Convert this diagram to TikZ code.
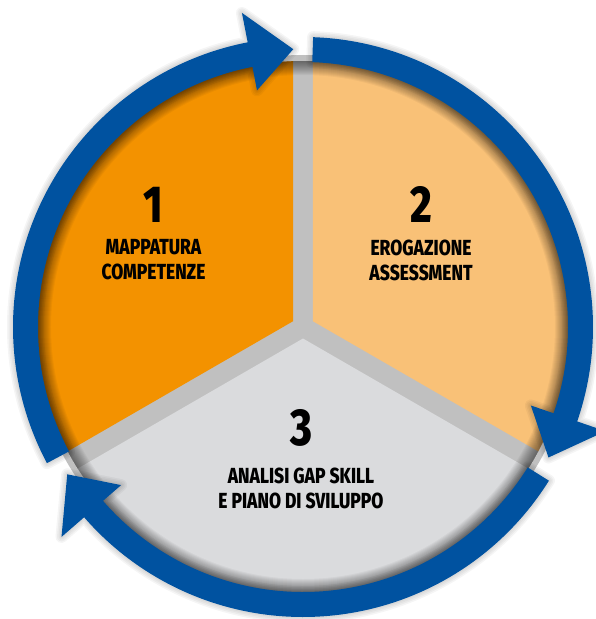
\documentclass[tikz,border=0pt]{standalone}
\usepackage{fontspec}
\newfontfamily\cyclefont[FakeStretch=0.8,BoldFont={Fira Sans ExtraBold}]{Fira Sans}
\usetikzlibrary{positioning}
\definecolor{ringblue}{RGB}{0,82,160}
\definecolor{stepdark}{RGB}{243,146,0}
\definecolor{steplight}{RGB}{249,193,119}
\definecolor{stepgrey}{RGB}{218,219,221}
\definecolor{gapgrey}{RGB}{192,192,192}
\tikzset{
  stepnum/.style={inner sep=0pt,font=\cyclefont\bfseries\fontsize{52}{52}\selectfont},
  steptext/.style={inner sep=0pt,align=center,font=\cyclefont\bfseries\fontsize{21.8}{25}\selectfont},
  ringarrow/.style={fill=ringblue},
  ringglow/.style={draw=black,opacity=0.04,line join=round}
}
\begin{document}
\begin{tikzpicture}[x=1pt,y=1pt]
    \useasboundingbox (-303,-292) rectangle (293,327);
    % grey disc, seen through the gaps
    \fill[gapgrey] (0,0) circle (272);
    \begin{scope}
        \clip (0,0) circle (266);
        \fill[stepdark,shift={(150:11.5)}] (0,0) -- (90:400) -- (150:600) -- (210:400) -- cycle;
        \fill[steplight,shift={(30:11.5)}] (0,0) -- (-30:400) -- (30:600) -- (90:400) -- cycle;
        \fill[stepgrey,shift={(270:11.5)}] (0,0) -- (210:400) -- (270:600) -- (330:400) -- cycle;
        % shadow along the rim
        \foreach \w in {2,4,...,28}
            \draw[black,opacity=0.04,line width=\w pt] (0,0) circle (266);
    \end{scope}
    % the three arrows of the cycle
    \foreach \s in {208,88,-32}{
        \pgfmathsetmacro\b{\s-107}
        \pgfmathsetmacro\t{\s-116}
        \foreach \g in {3,6,9,12}
            \draw[ringglow,line width=\g pt] (\s:290) arc[start angle=\s,end angle=\b,radius=290]
                -- (\b:320) -- (\t:278) -- (\b:241) -- (\b:265)
                arc[start angle=\b,end angle=\s,radius=265] -- cycle;
        \fill[ringarrow] (\s:290) arc[start angle=\s,end angle=\b,radius=290]
            -- (\b:320) -- (\t:278) -- (\b:241) -- (\b:265)
            arc[start angle=\b,end angle=\s,radius=265] -- cycle;
    }
    % steps
    \node[stepnum] (num1) at (-149.5,122.3) {1};
    \node[steptext,below=17pt of num1] (lab1) {MAPPATURA\\COMPETENZE};
    \node[stepnum] (num2) at (118,122.3) {2};
    \node[steptext,below=17pt of num2] (lab2) {EROGAZIONE\\ASSESSMENT};
    \node[stepnum] (num3) at (-2,-101) {3};
    \node[steptext,below=21pt of num3] (lab3) {ANALISI GAP SKILL\\E PIANO DI SVILUPPO};
\end{tikzpicture}
\end{document}
